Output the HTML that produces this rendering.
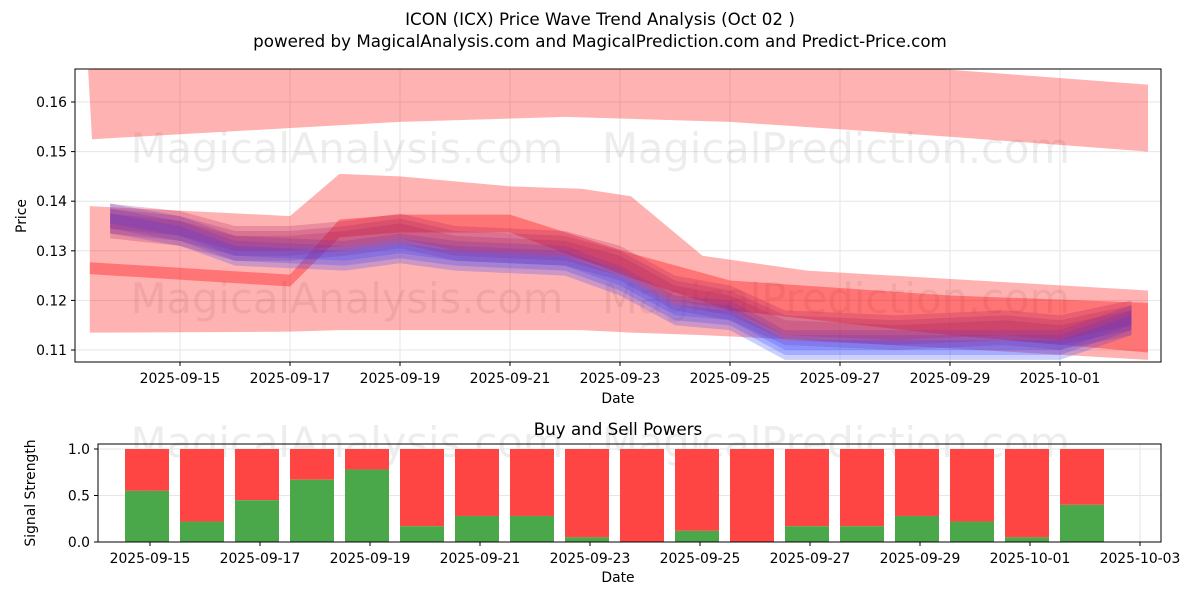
<!DOCTYPE html>
<html><head><meta charset="utf-8"><style>
body{margin:0;background:#fff;font-family:"Liberation Sans","DejaVu Sans",sans-serif}
svg text{font-family:"DejaVu Sans","Liberation Sans",sans-serif;fill:#000}
</style></head><body>
<svg id="c" width="1200" height="600" xmlns="http://www.w3.org/2000/svg">
<rect width="1200" height="600" fill="#fff"/>
<text x="600" y="25" font-size="16.7" text-anchor="middle">ICON (ICX) Price Wave Trend Analysis (Oct 02 )</text>
<text x="600" y="47" font-size="16.7" text-anchor="middle">powered by MagicalAnalysis.com and MagicalPrediction.com and Predict-Price.com</text>
<g id="topg"></g><g id="botg"></g>
</svg>
<script>
// Top chart data (day offsets from 2025-09-15)
const topBandUpperDays=[-1.67,3,8,14,17.6];
const topBandUpper=[0.1665,0.1685,0.169,0.1665,0.1635];
const topBandLowerDays=[-1.6,4,7,10,14,17.6];
const topBandLower=[0.1525,0.156,0.157,0.156,0.153,0.150];
const midDays=[-1.64,2,2.9,4,6,7.3,8.2,9.5,11.4,17.6];
const midUpper=[0.139,0.137,0.1455,0.145,0.143,0.1425,0.141,0.129,0.126,0.122];
const midLower=[0.1135,0.1137,0.114,0.114,0.114,0.114,0.1135,0.113,0.112,0.108];
const redDays=[-1.64,2,2.9,4,6,8.2,10,14,17.6];
const redCenter=[0.1265,0.124,0.1345,0.1355,0.1355,0.127,0.121,0.117,0.1145];
const redHalf=[0.0012,0.0012,0.0018,0.0018,0.0018,0.0025,0.003,0.004,0.005];
const waveDays=[-1.27,0,1,2,3,4,5,7,8,9,10,11,13,15,16,17.3];
const blueWave=[0.1365,0.134,0.130,0.1295,0.129,0.1305,0.129,0.128,0.124,0.118,0.117,0.111,0.111,0.111,0.111,0.116];
const purpleWave=[0.1355,0.134,0.131,0.131,0.132,0.1335,0.131,0.130,0.127,0.121,0.119,0.114,0.113,0.114,0.113,0.116];
const priceTicks=[0.11,0.12,0.13,0.14,0.15,0.16];
const dateTicksTop=["2025-09-15","2025-09-17","2025-09-19","2025-09-21","2025-09-23","2025-09-25","2025-09-27","2025-09-29","2025-10-01"];
// Bottom chart data
const barDates=[0,1,2,3,4,5,6,7,8,9,10,11,12,13,14,15,16,17];
const buyPower=[0.55,0.22,0.45,0.67,0.78,0.17,0.28,0.28,0.05,0.0,0.12,0.0,0.17,0.17,0.28,0.22,0.05,0.4];
const dateTicksBot=["2025-09-15","2025-09-17","2025-09-19","2025-09-21","2025-09-23","2025-09-25","2025-09-27","2025-09-29","2025-10-01","2025-10-03"];
const strengthTicks=[0,0.5,1.0];

const NS="http://www.w3.org/2000/svg";
const FS=13.9;
function mk(p,t,a){const e=document.createElementNS(NS,t);for(const k in a)e.setAttribute(k,a[k]);p.appendChild(e);return e;}
const gTop=document.getElementById('topg'),gBot=document.getElementById('botg');
const X=d=>180+55*d, Y=v=>350-(v-0.11)*4960;
const L=75,R=1161,T=69,B=362;
priceTicks.forEach(v=>{const l=mk(gTop,'line',{x1:L,x2:R,y1:Y(v),y2:Y(v),stroke:'#e6e6e6'});

const t=mk(gTop,'text',{x:L-8,y:Y(v)+5,'font-size':FS,'text-anchor':'end'});t.textContent=v.toFixed(2);

mk(gTop,'line',{x1:L-4,x2:L,y1:Y(v),y2:Y(v),stroke:'#000'});});
dateTicksTop.forEach((s,i)=>{const x=X(i*2);const l=mk(gTop,'line',{x1:x,x2:x,y1:T,y2:B,stroke:'#e6e6e6'});

mk(gTop,'line',{x1:x,x2:x,y1:B,y2:B+4,stroke:'#000'});
const t=mk(gTop,'text',{x:x,y:B+21,'font-size':FS,'text-anchor':'middle'});t.textContent=s;
});
function wm(g,x,y){const t=mk(g,'text',{x:x,y:y,'font-size':41.6,fill:'#000','fill-opacity':0.07,'text-anchor':'middle'});return t;}
wm(gTop,347,163).textContent='MagicalAnalysis.com';wm(gTop,836,163).textContent='MagicalPrediction.com';wm(gTop,347,313).textContent='MagicalAnalysis.com';wm(gTop,836,313).textContent='MagicalPrediction.com';
function poly(g,ud,uv,ld,lv,fill,op,name){let pts=ud.map((d,i)=>X(d)+','+Y(uv[i]));
for(let i=ld.length-1;i>=0;i--)pts.push(X(ld[i])+','+Y(lv[i]));
const p=mk(g,'polygon',{points:pts.join(' '),fill:fill,'fill-opacity':op});
return p;}
const clip=mk(gTop,'clipPath',{id:'cp'});mk(clip,'rect',{x:L,y:T,width:R-L,height:B-T});
const g=mk(gTop,'g',{'clip-path':'url(#cp)'});
poly(g,topBandUpperDays,topBandUpper,topBandLowerDays,topBandLower,'#ff0000',0.3,'upper-forecast-band');
poly(g,midDays,midUpper,midDays,midLower,'#ff0000',0.3,'forecast-band');
poly(g,redDays,redCenter.map((v,i)=>v+redHalf[i]),redDays,redCenter.map((v,i)=>v-redHalf[i]),'#ff0000',0.35,'trend-band');
[0.003,0.002,0.001].forEach(w=>{
poly(g,waveDays,blueWave.map(v=>v+w),waveDays,blueWave.map(v=>v-w),'#3344ff',0.25,'blue-wave');
poly(g,waveDays,purpleWave.map(v=>v+w+0.001),waveDays,purpleWave.map(v=>v-w),'#aa2266',0.25,'purple-wave');});
mk(gTop,'rect',{x:L,y:T,width:R-L,height:B-T,fill:'none',stroke:'#000'});
let t=mk(gTop,'text',{x:618,y:403,'font-size':FS,'text-anchor':'middle'});t.textContent='Date';
t=mk(gTop,'text',{x:0,y:0,'font-size':FS,'text-anchor':'middle',transform:'translate(26,216) rotate(-90)'});t.textContent='Price';

const bL=98,bR=1161,bT=444,bB=542;
const BX=d=>150+55*d, BY=v=>bB-v*93;
t=mk(gBot,'text',{x:618,y:435,'font-size':16.7,'text-anchor':'middle'});t.textContent='Buy and Sell Powers';
wm(gBot,347,457).textContent='MagicalAnalysis.com';wm(gBot,836,457).textContent='MagicalPrediction.com';
strengthTicks.forEach(v=>{const l=mk(gBot,'line',{x1:bL,x2:bR,y1:BY(v),y2:BY(v),stroke:'#e6e6e6'});

mk(gBot,'line',{x1:bL-4,x2:bL,y1:BY(v),y2:BY(v),stroke:'#000'});
const tt=mk(gBot,'text',{x:bL-8,y:BY(v)+5,'font-size':FS,'text-anchor':'end'});tt.textContent=v.toFixed(1);
});
dateTicksBot.forEach((s,i)=>{const x=BX(i*2);const l=mk(gBot,'line',{x1:x,x2:x,y1:bT,y2:bB,stroke:'#e6e6e6'});

mk(gBot,'line',{x1:x,x2:x,y1:bB,y2:bB+4,stroke:'#000'});
const tt=mk(gBot,'text',{x:x,y:bB+21,'font-size':FS,'text-anchor':'middle'});tt.textContent=s;
});
barDates.forEach((d,i)=>{const x=BX(d)-3-22;
const s=mk(gBot,'rect',{x:x,y:BY(1),width:44,height:BY(buyPower[i])-BY(1),fill:'#ff4444'});

const b=mk(gBot,'rect',{x:x,y:BY(buyPower[i]),width:44,height:bB-BY(buyPower[i]),fill:'#4aa84a'});
});
mk(gBot,'rect',{x:bL,y:bT,width:bR-bL,height:bB-bT,fill:'none',stroke:'#000'});
t=mk(gBot,'text',{x:618,y:582,'font-size':FS,'text-anchor':'middle'});t.textContent='Date';
t=mk(gBot,'text',{x:0,y:0,'font-size':FS,'text-anchor':'middle',transform:'translate(35,493) rotate(-90)'});t.textContent='Signal Strength';
</script>
</body></html>
